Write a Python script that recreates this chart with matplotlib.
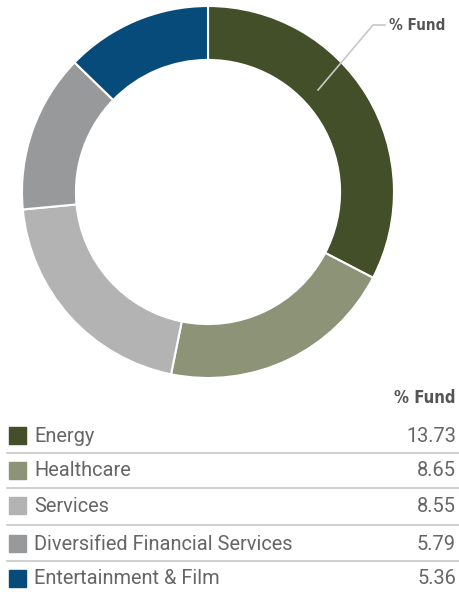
import matplotlib.pyplot as plt

# Sector weights (% of fund)
sectors = ["Energy", "Healthcare", "Services", "Diversified Financial Services", "Entertainment & Film"]
weights = [13.73, 8.65, 8.55, 5.79, 5.36]
colors = ["#434f28", "#8c9377", "#b3b3b3", "#98999b", "#064b7a"]

W, H = 459, 592
fig = plt.figure(figsize=(W / 100, H / 100), dpi=100)

# donut
cx, cy, r = 208, 192, 186
ax = fig.add_axes([(cx - r) / W, (H - cy - r) / H, 2 * r / W, 2 * r / H])
ax.pie(weights, colors=colors, startangle=90, counterclock=False, radius=1,
       wedgeprops=dict(width=0.29, edgecolor="white", linewidth=1.5))
ax.set_xlim(-1, 1)
ax.set_ylim(-1, 1)
ax.axis("off")

# overlay in pixel coordinates for the table and callout
ov = fig.add_axes([0, 0, 1, 1], zorder=5)
ov.set_xlim(0, W)
ov.set_ylim(H, 0)
ov.axis("off")
ov.patch.set_alpha(0)

cond = dict(family="DejaVu Sans", fontstretch="condensed", fontweight="bold", color="#555555")
body = dict(family=["Roboto", "DejaVu Sans"], fontweight="normal", color="#666666")

ov.plot([318, 373, 385], [90, 25, 25], color="#c8c8c8", lw=1.2)
ov.text(389, 26, "% Fund", fontsize=11, va="center", ha="left", **cond)

ov.text(455, 398, "% Fund", fontsize=12, va="center", ha="right", **cond)

row_y = [435, 470, 505, 543, 578]
for i, (name, val, c) in enumerate(zip(sectors, weights, colors)):
    y = row_y[i]
    ov.add_patch(plt.Rectangle((9, y - 8.5), 17, 17, color=c))
    ov.text(34, y + 1, name, fontsize=14.4, va="center", ha="left", **body)
    ov.text(456, y + 1, f"{val:.2f}", fontsize=14.4, va="center", ha="right", **body)
    if i < len(sectors) - 1:
        sep = (row_y[i] + row_y[i + 1]) / 2 + 0.5
        ov.plot([7, 459], [sep, sep], color="#c8c8c8", lw=1.2)

fig.savefig("out.png", dpi=100)
